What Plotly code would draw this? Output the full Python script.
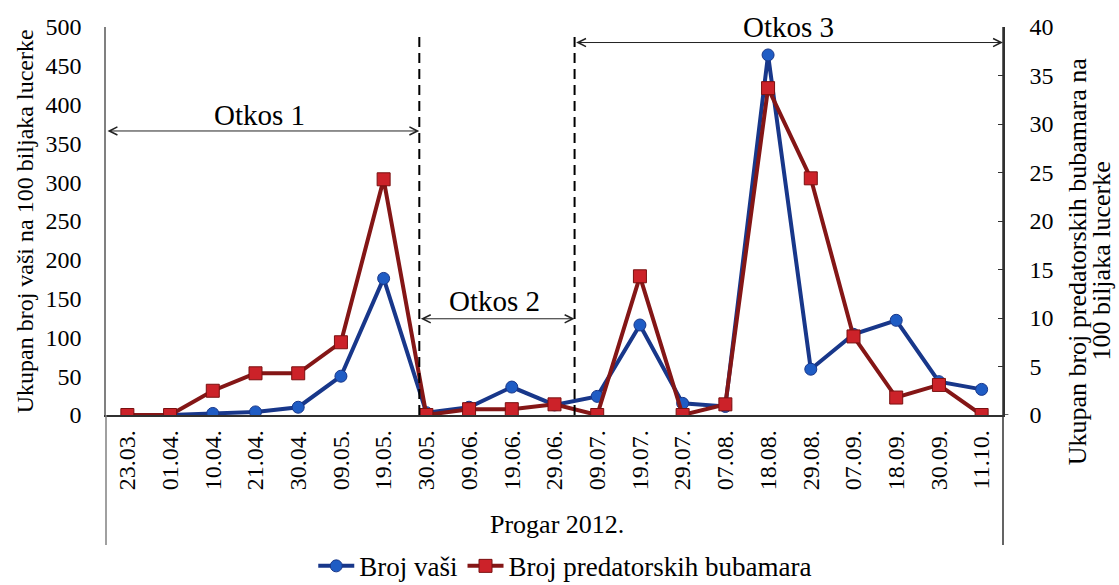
import plotly.graph_objects as go

categories = ["23.03.", "01.04.", "10.04.", "21.04.", "30.04.", "09.05.", "19.05.",
              "30.05.", "09.06.", "19.06.", "29.06.", "09.07.", "19.07.", "29.07.",
              "07.08.", "18.08.", "29.08.", "07.09.", "18.09.", "30.09.", "11.10."]
broj_vasi = [0, 0, 2, 4, 10, 50, 176, 3, 10, 36, 13, 24, 116, 15, 11, 464, 59, 104, 122, 43, 33]
broj_bubamara = [0, 0, 2.5, 4.3, 4.3, 7.5, 24.3, 0, 0.6, 0.6, 1.1, 0, 14.3, 0, 1.1, 33.7, 24.4, 8.1, 1.8, 3.1, 0]

FONT = "Liberation Serif, serif"

fig = go.Figure()
fig.add_trace(go.Scatter(
    x=categories, y=broj_vasi, name="Broj vaši", mode="lines+markers",
    line=dict(color="#18378a", width=4),
    marker=dict(symbol="circle", size=12, color="#1f5cc4", line=dict(color="#18378a", width=1)),
))
fig.add_trace(go.Scatter(
    x=categories, y=broj_bubamara, name="Broj predatorskih bubamara", mode="lines+markers",
    yaxis="y2",
    line=dict(color="#841616", width=4),
    marker=dict(symbol="square", size=13, color="#cc2229", line=dict(color="#7a1010", width=1)),
))

cut1 = 6.835
cut2 = 10.47

shapes = [
    dict(type="line", xref="x", yref="y", x0=cut1, x1=cut1, y0=0, y1=490,
         line=dict(color="black", width=2, dash="10px,6px")),
    dict(type="line", xref="x", yref="y", x0=cut2, x1=cut2, y0=0, y1=490,
         line=dict(color="black", width=2, dash="10px,6px")),
    dict(type="line", xref="paper", yref="paper", x0=0, x1=0, y0=0, y1=-0.335,
         line=dict(color="#808080", width=1.5)),
    dict(type="line", xref="paper", yref="paper", x0=1, x1=1, y0=-0.335, y1=1,
         line=dict(color="#303030", width=1.5)),
    dict(type="line", xref="paper", yref="y", x0=1, x1=1.006, y0=0, y1=0,
         line=dict(color="#303030", width=1.5)),
]

annotations = []
for (a, b, yv) in [(-0.5, cut1, 366), (cut1, cut2, 124), (cut2, 20.5, 480)]:
    annotations.append(dict(x=b, y=yv, ax=a, ay=yv, xref="x", yref="y", axref="x", ayref="y",
                            text="", showarrow=True, arrowhead=5, startarrowhead=5,
                            arrowside="end+start", arrowsize=1.6, startarrowsize=1.6,
                            arrowwidth=1, arrowcolor="#222222"))
for (t, xv, yv) in [("Otkos 1", 3.1, 387), ("Otkos 2", 8.6, 147), ("Otkos 3", 15.47, 500)]:
    annotations.append(dict(x=xv, y=yv, xref="x", yref="y", text=t, showarrow=False,
                            font=dict(family=FONT, size=29, color="black")))

annotations.append(dict(x=-0.09, y=0.5, xref="paper", yref="paper", xanchor="center", yanchor="middle",
                        text="Ukupan broj vaši na 100 biljaka lucerke", textangle=-90, showarrow=False,
                        font=dict(family=FONT, size=24, color="black")))
annotations.append(dict(x=1.0825, y=0.396, xref="paper", yref="paper", xanchor="center", yanchor="middle",
                        text="Ukupan broj predatorskih bubamara na", textangle=-90,
                        showarrow=False, font=dict(family=FONT, size=26, color="black")))
annotations.append(dict(x=1.1095, y=0.396, xref="paper", yref="paper", xanchor="center", yanchor="middle",
                        text="100 biljaka lucerke", textangle=-90,
                        showarrow=False, font=dict(family=FONT, size=26, color="black")))
annotations.append(dict(x=0.503, y=-0.283, xref="paper", yref="paper", xanchor="center", yanchor="middle",
                        text="Progar 2012.", showarrow=False, font=dict(family=FONT, size=26, color="black")))

fig.update_layout(
    width=1119, height=585,
    margin=dict(l=106, r=116, t=27, b=170, autoexpand=False),
    plot_bgcolor="white", paper_bgcolor="white",
    font=dict(family=FONT, size=24, color="black"),
    showlegend=True,
    legend=dict(orientation="h", x=0.512, xanchor="center", y=-0.39, yanchor="middle",
                font=dict(family=FONT, size=27, color="black"), itemwidth=36,
                bgcolor="rgba(0,0,0,0)"),
    xaxis=dict(type="category", range=[-0.5, 20.5], showline=True, linecolor="#303030", linewidth=1.5,
               showgrid=False, ticks="", tickangle=-90, tickfont=dict(family=FONT, size=24),
               ticklabelstandoff=4, zeroline=False, automargin=False),
    yaxis=dict(range=[0, 500], dtick=50, showline=True, linecolor="#808080", linewidth=1.5,
               showgrid=False, ticks="", zeroline=False, tickfont=dict(family=FONT, size=24),
               ticklabelstandoff=18, automargin=False),
    yaxis2=dict(range=[0, 40], dtick=5, overlaying="y", side="right", showline=True,
                linecolor="#303030", linewidth=1.5, showgrid=False, ticks="inside", ticklen=5,
                tickcolor="#303030", zeroline=False, tickfont=dict(family=FONT, size=24),
                ticklabelstandoff=20, automargin=False),
    shapes=shapes,
    annotations=annotations,
)

fig.write_html("out.html", config={"displayModeBar": False},
               post_script="document.body.style.margin='0';")
